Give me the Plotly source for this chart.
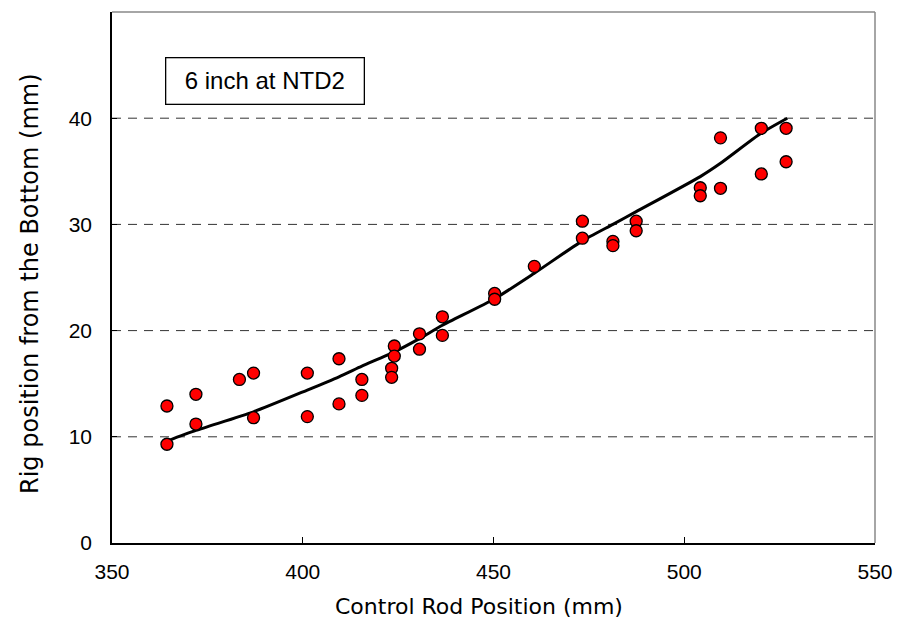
import plotly.graph_objects as go

# measured data
rod_x = [364.4, 364.4, 372.0, 372.0, 383.4, 387.1, 387.1, 401.2, 401.2, 409.5, 409.5,
         415.5, 415.5, 423.3, 423.3, 424.0, 424.0, 430.6, 430.6, 436.6, 436.6,
         450.3, 450.3, 460.7, 473.3, 473.3, 481.3, 481.3, 487.4, 487.4,
         504.2, 504.2, 509.5, 509.5, 520.2, 520.2, 526.7, 526.7]
rig_y = [12.9, 9.3, 14.0, 11.2, 15.4, 16.0, 11.8, 16.0, 11.9, 17.35, 13.1,
         15.4, 13.9, 16.45, 15.6, 18.55, 17.6, 19.7, 18.25, 21.3, 19.55,
         23.5, 22.95, 26.05, 30.3, 28.7, 28.4, 28.0, 30.3, 29.4,
         33.45, 32.7, 38.15, 33.4, 39.05, 34.75, 39.05, 35.9]

# fitted curve
fit_x = [364.4, 372.0, 387.1, 401.2, 409.5, 415.5, 424.0, 430.6, 436.6, 450.3,
         460.7, 473.3, 481.3, 487.4, 504.2, 509.5, 520.2, 527.0]
fit_y = [9.6, 10.6, 12.35, 14.4, 15.65, 16.65, 18.0, 19.25, 20.5, 23.0,
         25.4, 28.45, 30.0, 31.2, 34.5, 35.75, 38.6, 40.0]

x_ticks = [350, 400, 450, 500, 550]
y_ticks = [0, 10, 20, 30, 40, 50]
grid_vals = [10, 20, 30, 40]

tick_font = dict(family="Liberation Sans, Arial, sans-serif", size=21, color="#000")
title_family = "DejaVu Sans, sans-serif"

fig = go.Figure()
fig.add_trace(go.Scatter(x=fit_x, y=fit_y, mode="lines",
                         line=dict(color="black", width=3, shape="spline", smoothing=0.6),
                         showlegend=False))
fig.add_trace(go.Scatter(x=rod_x, y=rig_y, mode="markers",
                         marker=dict(color="#ff0000", size=12, line=dict(color="black", width=1.3)),
                         showlegend=False))

for v in grid_vals:
    fig.add_shape(type="line", xref="paper", x0=0, x1=1, yref="y", y0=v, y1=v,
                  line=dict(color="#333", width=1, dash="9px,7px"), layer="below")

fig.add_annotation(xref="x", yref="y", x=363.94, y=45.79, xanchor="left", yanchor="top",
                   text="6 inch at NTD2", showarrow=False, width=181, height=29, align="center",
                   font=dict(family="Liberation Sans, Arial, sans-serif", size=24, color="#000"),
                   bordercolor="#000", borderwidth=1.3, borderpad=8, bgcolor="white")

# axis titles
fig.add_annotation(xref="paper", yref="paper", x=0.4807, y=-0.1205, xanchor="center", yanchor="middle",
                   text="Control Rod Position (mm)", showarrow=False,
                   font=dict(family=title_family, size=22, color="#000"))
fig.add_annotation(xref="paper", yref="paper", x=-0.1075, y=0.4896, xanchor="center", yanchor="middle",
                   text="Rig position from the Bottom (mm)", showarrow=False, textangle=-90,
                   font=dict(family=title_family, size=24, color="#000"))

fig.update_layout(
    width=887, height=611,
    margin=dict(l=104, r=20, t=4, b=76),
    plot_bgcolor="white", paper_bgcolor="white",
    xaxis=dict(range=[350, 550], tickvals=x_ticks, ticks="inside", ticklen=6,
               tickcolor="#000", showgrid=False, zeroline=False, automargin=False,
               showline=True, linecolor="#000", linewidth=1.5, mirror=False,
               tickfont=tick_font, ticklabelstandoff=9),
    yaxis=dict(range=[0, 50.0001], tickvals=y_ticks, ticks="inside", ticklen=5,
               tickcolor="#000", showgrid=False, zeroline=False, automargin=False,
               showline=True, linecolor="#000", linewidth=1.5,
               tickfont=tick_font, ticklabelstandoff=14),
)
# top and right border in gray
fig.add_shape(type="line", xref="paper", yref="paper", x0=0, x1=1, y0=1, y1=1,
              line=dict(color="#888", width=1.5))
fig.add_shape(type="line", xref="paper", yref="paper", x0=1, x1=1, y0=0, y1=1,
              line=dict(color="#888", width=1.5))

fig.write_html("out.html")
